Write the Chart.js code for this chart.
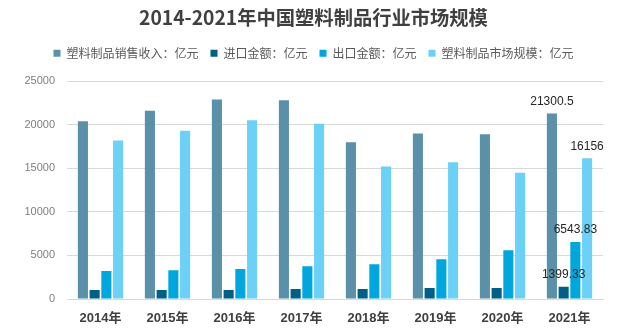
<!DOCTYPE html>
<html><head><meta charset="utf-8">
<script src="https://cdn.jsdelivr.net/npm/chart.js@4"></script>
<style>html,body{margin:0;padding:0;background:#fff}#wrap{width:631px;height:331px}</style>
</head><body><div id="wrap"><canvas id="c" width="631" height="331"></canvas></div>
<script>
const categories = ['2014年','2015年','2016年','2017年','2018年','2019年','2020年','2021年'];
const seriesNames = ['塑料制品销售收入：亿元','进口金额：亿元','出口金额：亿元','塑料制品市场规模：亿元'];
const salesRevenue = [20400, 21600, 22900, 22800, 18000, 19000, 18900, 21300.5];
const importAmount = [1030, 1030, 1030, 1140, 1140, 1250, 1250, 1399.33];
const exportAmount = [3200, 3310, 3430, 3770, 4000, 4570, 5600, 6543.83];
const marketSize = [18200, 19300, 20500, 20100, 15200, 15700, 14500, 16156];
const yTicks = [0, 5000, 10000, 15000, 20000, 25000];
const labelledIndex = 7;

const colors = ['#5b90a9', '#005f87', '#00a6de', '#6cd1f6'];
const seriesData = [salesRevenue, importAmount, exportAmount, marketSize];

const valueLabels = {
  id: 'valueLabels',
  afterDatasetsDraw(chart) {
    const ctx = chart.ctx;
    ctx.save();
    ctx.font = '12px "Liberation Sans", Arial, sans-serif';
    ctx.fillStyle = '#262626';
    ctx.textAlign = 'center';
    ctx.textBaseline = 'bottom';
    chart.data.datasets.forEach((ds, i) => {
      const el = chart.getDatasetMeta(i).data[labelledIndex];
      if (!el) return;
      ctx.fillText(String(ds.data[labelledIndex]), el.x, el.y - 6);
    });
    ctx.restore();
  }
};

const legendSpace = {
  id: 'legendSpace',
  beforeInit(chart) {
    const lg = chart.legend;
    if (!lg) return;
    const orig = lg.fit;
    lg.fit = function () { orig.call(this); this.height += 12; };
  }
};

new Chart(document.getElementById('c'), {
  type: 'bar',
  data: {
    labels: categories,
    datasets: seriesData.map((d, i) => ({
      label: seriesNames[i],
      data: d,
      backgroundColor: colors[i],
      borderWidth: 0,
      categoryPercentage: 0.7,
      barPercentage: 0.86
    }))
  },
  options: {
    responsive: false,
    animation: false,
    devicePixelRatio: 1,
    layout: { padding: { left: 24, right: 28, top: 0, bottom: 0 } },
    plugins: {
      title: {
        display: true,
        text: '2014-2021年中国塑料制品行业市场规模',
        color: '#404040',
        font: { family: '"Noto Sans CJK SC", sans-serif', size: 19.3, weight: 'bold' },
        padding: { top: 6, bottom: 6 }
      },
      legend: {
        display: true,
        position: 'top',
        labels: {
          boxWidth: 7,
          boxHeight: 7,
          padding: 12,
          color: '#595959',
          font: { family: '"Noto Sans CJK SC", sans-serif', size: 12 }
        }
      },
      tooltip: { enabled: false }
    },
    scales: {
      x: {
        grid: { display: false, drawTicks: false },
        border: { display: true, color: '#d9d9d9', width: 1 },
        afterFit(scale) { scale.height = 32; },
        ticks: {
          color: '#404040',
          padding: 12,
          font: { family: '"Liberation Sans", "Noto Sans CJK SC", sans-serif', size: 13, weight: 'bold' }
        }
      },
      y: {
        min: 0,
        max: 25000,
        afterBuildTicks(axis) { axis.ticks = yTicks.map(v => ({ value: v })); },
        afterFit(scale) { scale.width = 43; },
        grid: { color: '#d9d9d9', lineWidth: 1, drawTicks: false },
        border: { display: false },
        ticks: {
          color: '#7f7f7f',
          padding: 12,
          callback: (v) => String(v),
          font: { family: '"Liberation Sans", Arial, sans-serif', size: 11 }
        }
      }
    }
  },
  plugins: [valueLabels, legendSpace]
});
</script>
</body></html>
